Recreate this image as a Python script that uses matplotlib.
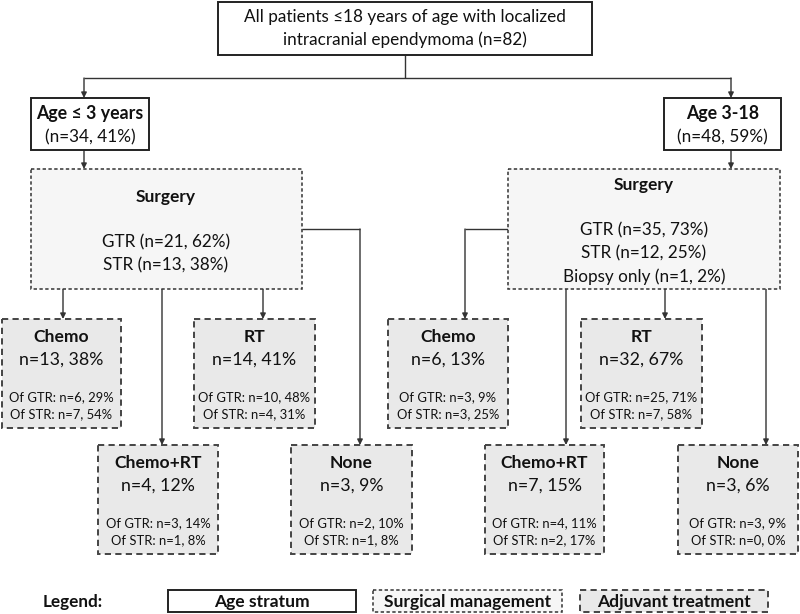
import matplotlib
matplotlib.use("Agg")
import matplotlib.pyplot as plt
from matplotlib.patches import Rectangle

plt.rcParams['font.family'] = ['Lato', 'DejaVu Sans']

# ---------------- data ----------------
total_n = 82
top_lines = ["All patients \u226418 years of age with localized",
             f"intracranial ependymoma (n={total_n})"]
strata_titles = ["Age \u2264 3 years", "Age 3-18"]
strata_n = [34, 48]
strata_pct = [41, 59]

surg_left_labels = ["GTR", "STR"]
surg_left_n = [21, 13]
surg_left_pct = [62, 38]
surg_right_labels = ["GTR", "STR", "Biopsy only"]
surg_right_n = [35, 12, 1]
surg_right_pct = [73, 25, 2]

treatments = ["Chemo", "RT", "Chemo+RT", "None"]
left_n = [13, 14, 4, 3]
left_pct = [38, 41, 12, 9]
left_gtr_n = [6, 10, 3, 2]
left_gtr_pct = [29, 48, 14, 10]
left_str_n = [7, 4, 1, 1]
left_str_pct = [54, 31, 8, 8]

right_n = [6, 32, 7, 3]
right_pct = [13, 67, 15, 6]
right_gtr_n = [3, 25, 4, 3]
right_gtr_pct = [9, 71, 11, 9]
right_str_n = [3, 7, 2, 0]
right_str_pct = [25, 58, 17, 0]

legend_labels = ["Age stratum", "Surgical management", "Adjuvant treatment"]

# ---------------- styles ----------------
LC = '#333333'
SOLID = dict(fill=True, facecolor='white', edgecolor='#222222', lw=1.4, linestyle='-')
DOTTED = dict(fill=True, facecolor='#f6f6f6', edgecolor='#333333', lw=1.1, linestyle=(0, (2.2, 1.6)))
DASHED = dict(fill=True, facecolor='#e9e9e9', edgecolor='#444444', lw=1.4, linestyle=(0, (3.2, 2.2)))

fig = plt.figure(figsize=(8, 6.14), dpi=100)
ax = fig.add_axes([0, 0, 1, 1])
ax.set_xlim(0, 800)
ax.set_ylim(614, 0)
ax.axis('off')


def box(x0, y0, x1, y1, style):
    ax.add_patch(Rectangle((x0, y0), x1 - x0, y1 - y0, zorder=2, **style))


def txt(x, y, s, size=11.5, bold=False):
    ax.text(x, y, s, ha='center', va='center', fontsize=size,
            fontweight='bold' if bold else 'normal', color='#111111', zorder=3)


def line(pts):
    xs = [p[0] for p in pts]
    ys = [p[1] for p in pts]
    ax.plot(xs, ys, color=LC, lw=1.0, zorder=1, solid_capstyle='butt')


def arrow(x0, y0, x1, y1):
    ax.annotate('', xy=(x1, y1), xytext=(x0, y0),
                arrowprops=dict(arrowstyle='-|>', color=LC, lw=1.0,
                                mutation_scale=8, shrinkA=0, shrinkB=0),
                zorder=1)


# ---------------- top box ----------------
box(218, 2, 592, 55, SOLID)
txt(405, 17, top_lines[0], size=12.3)
txt(405, 40, top_lines[1], size=12.3)

line([(405, 55), (405, 78)])
line([(84, 78), (731, 78)])
arrow(84, 78, 84, 98)
arrow(731, 78, 731, 98)

# ---------------- age strata ----------------
age_boxes = [(31, 149), (664, 781)]
for (x0, x1), t, n, p in zip(age_boxes, strata_titles, strata_n, strata_pct):
    box(x0, 98, x1, 150, SOLID)
    cx = (x0 + x1) / 2
    txt(cx, 113, t, size=12.8, bold=True)
    txt(cx, 137, f"(n={n}, {p}%)", size=12.3)

arrow(84, 150, 84, 169)
arrow(731, 150, 731, 169)

# ---------------- surgery ----------------
box(31, 169, 302, 289, DOTTED)
txt(166, 197, "Surgery", size=12.5, bold=True)
for i, (l, n, p) in enumerate(zip(surg_left_labels, surg_left_n, surg_left_pct)):
    txt(166, 242 + i * 23.5, f"{l} (n={n}, {p}%)", size=12.3)

box(508, 169, 780, 289, DOTTED)
txt(644, 185, "Surgery", size=12.5, bold=True)
for i, (l, n, p) in enumerate(zip(surg_right_labels, surg_right_n, surg_right_pct)):
    txt(644, 230 + i * 23.2, f"{l} (n={n}, {p}%)", size=12.3)

# ---------------- treatment boxes ----------------
ROW1 = (319, 428)
ROW2 = (445, 554)
left_boxes = [(2, 121, ROW1), (194, 315, ROW1), (98, 218, ROW2), (291, 412, ROW2)]
right_boxes = [(388, 508, ROW1), (581, 702, ROW1), (485, 604, ROW2), (678, 798, ROW2)]


def treat_box(x0, x1, rows, title, n, p, gn, gp, sn, sp):
    y0, y1 = rows
    box(x0, y0, x1, y1, DASHED)
    cx = (x0 + x1) / 2
    txt(cx, y0 + 18, title, size=12.6, bold=True)
    txt(cx, y0 + 41, f"n={n}, {p}%", size=12.8)
    txt(cx, y0 + 78, f"Of GTR: n={gn}, {gp}%", size=9.4)
    txt(cx, y0 + 95, f"Of STR: n={sn}, {sp}%", size=9.4)


for i, t in enumerate(treatments):
    x0, x1, rows = left_boxes[i]
    treat_box(x0, x1, rows, t, left_n[i], left_pct[i], left_gtr_n[i],
              left_gtr_pct[i], left_str_n[i], left_str_pct[i])
    x0, x1, rows = right_boxes[i]
    treat_box(x0, x1, rows, t, right_n[i], right_pct[i], right_gtr_n[i],
              right_gtr_pct[i], right_str_n[i], right_str_pct[i])

# connectors left
arrow(63, 289, 63, 319)
arrow(263, 289, 263, 319)
arrow(162, 289, 162, 445)
line([(302, 229), (360, 229)])
arrow(360, 229, 360, 445)
# connectors right
line([(508, 229), (465, 229)])
arrow(465, 229, 465, 319)
arrow(665, 289, 665, 319)
arrow(566, 289, 566, 445)
arrow(766, 289, 766, 445)

# ---------------- legend ----------------
txt(73, 602, "Legend:", size=12.3, bold=True)
legend_pos = [(168, 356, SOLID), (373, 562, DOTTED), (580, 768, DASHED)]
for (x0, x1, st), lab in zip(legend_pos, legend_labels):
    box(x0, 590, x1, 612, st)
    txt((x0 + x1) / 2, 601.5, lab, size=12.6, bold=True)

fig.savefig("out.png", dpi=100)
